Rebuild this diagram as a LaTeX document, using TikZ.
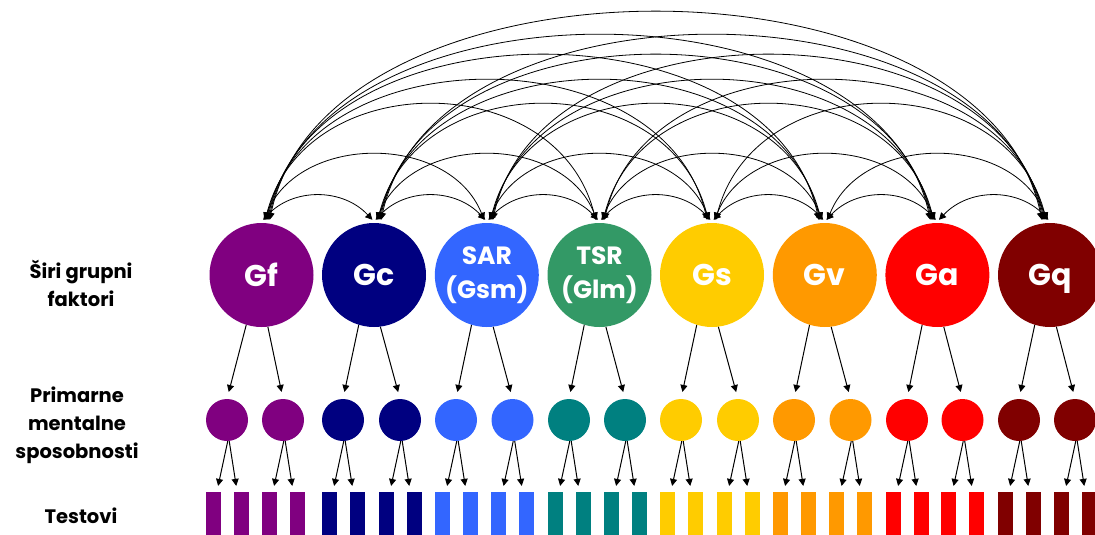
\documentclass[tikz,border=0pt]{standalone}
\usepackage{fontspec}
\setmainfont{Poppins}
\usetikzlibrary{arrows.meta,calc}
\definecolor{cGf}{HTML}{800080}
\definecolor{cGc}{HTML}{000080}
\definecolor{cSAR}{HTML}{3366FF}
\definecolor{cTSR}{HTML}{339966}
\definecolor{cTSRs}{HTML}{008080}
\definecolor{cGs}{HTML}{FFCC00}
\definecolor{cGv}{HTML}{FF9900}
\definecolor{cGa}{HTML}{FF0000}
\definecolor{cGq}{HTML}{800000}
\tikzset{
  big/.style={circle, minimum size=104pt, inner sep=0pt, text=white, align=center},
  small/.style={circle, minimum size=42pt, inner sep=0pt},
  testbox/.style={rectangle, minimum width=15pt, minimum height=43pt, inner sep=0pt},
  corr/.style={line width=0.8pt, {Triangle[length=7pt,width=7pt]}-{Triangle[length=7pt,width=7pt]}},
  load/.style={line width=1pt, -{Triangle[length=7pt,width=7pt]}},
  lab/.style={align=center, font=\bfseries\fontsize{19.5}{28}\selectfont}
}
\begin{document}
\begin{tikzpicture}[x=1pt,y=-1pt]
\useasboundingbox (0,0) rectangle (1095,535);
% broad factors, primary abilities, tests
\foreach \i/\cx/\sa/\sb/\col/\scol/\fs/\txt in {
  1/261.5/227/283/cGf/cGf/30/Gf,
  2/374/343/400/cGc/cGc/30/Gc,
  3/486.8/456/512.5/cSAR/cSAR/25/{SAR\\(Gsm)},
  4/599.5/569/625/cTSR/cTSRs/25/{TSR\\(Glm)},
  5/712/681/738/cGs/cGs/30/Gs,
  6/824.8/794/850.5/cGv/cGv/30/Gv,
  7/937.4/907/962.5/cGa/cGa/30/Ga,
  8/1050/1019/1075/cGq/cGq/30/{\raisebox{0pt}[\height][0pt]{Gq}}}{
  \node[big, fill=\col, font=\bfseries\fontsize{\fs}{34}\selectfont] (B\i) at (\cx,275) {\txt};
  \node[small, fill=\scol] (S\i-a) at (\sa,420) {};
  \node[small, fill=\scol] (S\i-b) at (\sb,420) {};
  \pgfmathsetmacro{\ta}{\sa-14}\pgfmathsetmacro{\tb}{\sa+14}
  \pgfmathsetmacro{\tc}{\sb-14}\pgfmathsetmacro{\td}{\sb+14}
  \node[testbox, fill=\scol] (T\i-a1) at (\ta,513.5) {};
  \node[testbox, fill=\scol] (T\i-a2) at (\tb,513.5) {};
  \node[testbox, fill=\scol] (T\i-b1) at (\tc,513.5) {};
  \node[testbox, fill=\scol] (T\i-b2) at (\td,513.5) {};
  \draw[load, shorten >=7pt] (B\i.-107) -- (S\i-a.north);
  \draw[load, shorten >=7pt] (B\i.-83) -- (S\i-b.north);
  \draw[load, shorten >=6pt] (S\i-a.-88) -- ($(T\i-a1.north)!0.5!(T\i-a1.north east)$);
  \draw[load, shorten >=6pt] (S\i-a.-84) -- ($(T\i-a2.north)!0.5!(T\i-a2.north west)$);
  \draw[load, shorten >=6pt] (S\i-b.-88) -- ($(T\i-b1.north)!0.5!(T\i-b1.north east)$);
  \draw[load, shorten >=6pt] (S\i-b.-84) -- ($(T\i-b2.north)!0.5!(T\i-b2.north west)$);
}
% correlations among broad factors
\foreach \i in {1,...,7}{
  \pgfmathtruncatemacro{\ii}{\i+1}
  \foreach \j in {\ii,...,8}{
    \pgfmathtruncatemacro{\dd}{\j-\i}
    \pgfmathsetmacro{\cb}{{32,86.7,153.3,185.3,218.7,245.3,276}[\dd-1]}
    \pgfmathsetmacro{\ca}{30+4.5*(\dd-1)}
    \pgfmathsetmacro{\oi}{0.5+1.1*\dd}
    \draw[corr] ($(B\i.north)+(\oi,-3)$) .. controls +(\ca,-\cb) and +(-\ca,-\cb) .. ($(B\j.north)+(-\oi,-3)$);
  }
}
% row labels
\node[lab] (L1) at (81,283) {Širi grupni\\faktori};
\node[lab] (L2) at (77,425) {Primarne\\mentalne\\sposobnosti};
\node[lab] (L3) at (81,516) {Testovi};
\end{tikzpicture}
\end{document}
